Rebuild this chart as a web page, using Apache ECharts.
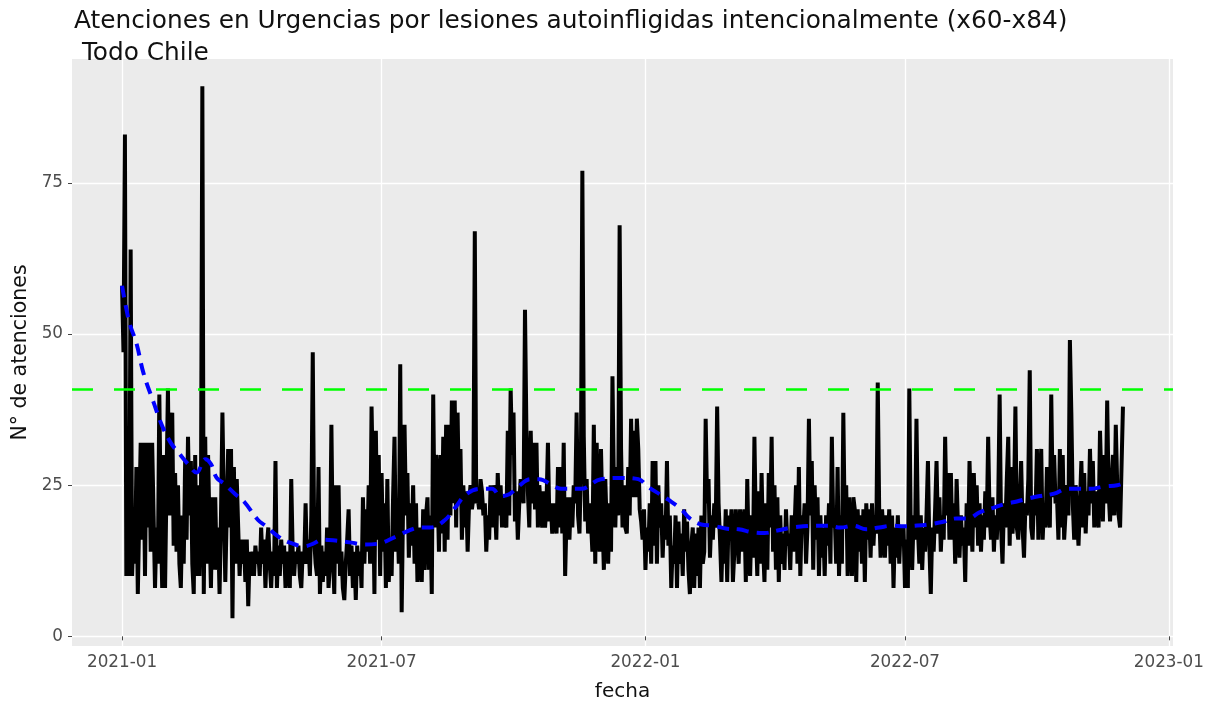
<!DOCTYPE html>
<html><head><meta charset="utf-8">
<script src="https://cdn.jsdelivr.net/npm/echarts@6/dist/echarts.min.js"></script>
<style>html,body{margin:0;padding:0;background:#fff}#c{width:1210px;height:707px}</style>
</head><body><div id="c"></div>
<script>
// Daily attendances, consecutive days starting at startDate
const startDate = '2021-01-01';
const dailyCountsPart1 = [ // days 0-179
58,47,83,10,25,10,64,10,18,12, 28,7,20,32,16,32,10,32,18,32, 14,32,20,8,18,12,40,20,8,30,
8,25,41,20,30,37,15,27,14,25, 12,8,20,12,29,16,33,20,29,12, 7,30,10,25,10,20,91,7,33,12,
30,18,8,23,11,23,11,18,7,20, 37,22,9,20,31,18,31,3,28,12, 26,18,10,16,12,16,9,16,5,14,
10,14,10,15,12,14,10,18,12,16, 8,15,18,12,8,14,10,29,8,15, 10,16,12,15,8,14,12,8,26,14,
10,14,12,15,10,8,14,12,22,12, 16,10,20,47,16,12,10,28,7,15, 9,14,10,18,8,12,35,14,7,25,
12,25,10,14,8,6,12,16,21,10, 15,8,14,6,15,10,14,8,23,12, 21,14,25,12,38,25,7,34,16,30];
const dailyCountsPart2 = [ // days 180-359
10,27,14,22,8,26,9,16,10,23, 33,14,20,12,45,4,22,35,20,27, 13,22,15,25,12,22,9,18,12,9,
21,11,20,23,11,20,7,40,18,30, 25,14,30,17,33,14,35,16,35,20, 39,22,39,18,37,22,31,16,25,18,
24,14,22,25,21,23,67,22,23,21, 26,24,20,22,14,20,16,25,18,25, 22,16,27,20,25,18,23,19,18,34,
20,41,30,37,19,24,16,22,26,26, 22,54,34,24,18,34,22,32,21,32, 18,25,21,18,24,18,22,32,19,22,
17,22,19,17,28,18,28,17,32,10, 20,23,16,23,18,25,22,37,20,17, 28,77,33,19,26,17,22,19,14,35,
12,32,18,14,31,20,11,26,18,12, 22,14,43,25,18,28,20,68,31,18, 25,18,17,28,20,36,23,34,23,36];
const dailyCountsPart3 = [ // days 360-539
31,21,19,16,21,11,18,14,22,12, 29,15,29,12,25,18,22,13,20,16, 29,15,20,8,15,12,20,8,19,12,
17,10,21,14,19,11,7,15,18,8, 17,10,18,8,20,12,14,36,22,26, 13,20,16,22,18,38,22,16,9,18,
12,21,9,20,16,21,9,14,21,17, 12,21,17,14,21,9,26,14,10,20, 13,33,18,10,24,12,27,15,9,22,
11,27,18,33,14,25,11,23,9,20, 12,17,11,21,15,17,11,20,14,18, 25,12,28,10,20,17,22,12,18,36,
20,29,11,25,16,23,10,20,13,18, 10,20,15,22,12,33,18,20,12,28, 10,20,12,37,18,25,10,23,16,10,
23,21,9,21,14,20,12,21,9,22, 16,21,13,22,15,20,17,42,21,13, 21,17,13,20,15,21,12,20,8,18];
const dailyCountsPart4 = [ // days 540-698
13,20,12,18,15,18,8,16,8,41, 18,11,20,16,36,18,12,20,11,18, 14,20,29,15,7,18,14,21,29,17,
23,14,20,16,33,20,27,16,27,16, 22,12,26,18,13,20,15,18,9,22, 15,29,20,14,27,18,25,15,22,14,
20,16,24,18,33,20,16,23,14,20, 16,22,40,18,12,22,18,26,33,15, 28,17,22,38,18,16,22,29,18,13,
22,20,26,44,18,16,23,20,31,16, 25,31,16,22,18,28,21,18,40,23, 30,22,23,16,31,18,30,16,16,25,
20,49,37,22,16,25,20,15,22,29, 18,27,17,24,20,31,22,29,18,24, 20,18,34,25,19,30,22,39,24,19,
25,30,20,35,25,20,18,28,38];

// Smoothed trend (day offset from startDate, value)
const trendDays = [0,5,10,15,22,28,34,40,46,52,58,62,66,71,79,85,95,100,109,117,127,133,140,150,160,168,178,191,200,208,215,225,233,240,250,258,264,270,276,285,291,300,306,320,334,350,360,367,375,381,390,396,404,412,422,430,440,448,457,467,475,483,492,501,510,519,528,537,545,553,562,572,582,590,598,608,616,624,632,640,650,659,667,675,685,694,698];
const trendValues = [58,52,48.5,43.5,38.7,34.8,32,30.2,28.5,27.1,29.3,28.5,26.2,25.3,23.5,22.3,19.2,18.3,16.5,15.5,14.9,15.3,16,15.8,15.5,15.2,15.3,16.5,17.5,18,18,19.2,21.5,23.5,24.4,24.4,23.2,23.5,24.7,26,26,25,24.4,24.4,26,26.2,26,24.7,23.5,22.6,21,19.5,18.5,18.3,17.8,17.7,17.2,17.1,17.5,18,18.2,18.3,18.3,18,18.3,17.7,18,18.3,18.2,18.3,18.5,18.9,19.5,19.5,20.5,21.3,21.9,22.3,22.8,23.2,23.6,24.4,24.4,24.4,24.8,25,25.3];

const thresholdValue = 40.8;
const xTickDates = ['2021-01-01','2021-07-01','2022-01-01','2022-07-01','2023-01-01'];
const yTickValues = [0,25,50,75];
const titleText = 'Atenciones en Urgencias por lesiones autoinfligidas intencionalmente (x60-x84)\n Todo Chile';
const xAxisTitle = 'fecha';
const yAxisTitle = 'N° de atenciones';

const DAY = 86400000;
const t0 = Date.parse(startDate + 'T00:00:00Z');
const counts = [].concat(dailyCountsPart1, dailyCountsPart2, dailyCountsPart3, dailyCountsPart4);
const countData = counts.map((v, i) => [t0 + i * DAY, v]);
const trendData = trendDays.map((d, i) => [t0 + d * DAY, trendValues[i]]);
const xTicks = xTickDates.map(s => Date.parse(s + 'T00:00:00Z'));
const span = (counts.length - 1);
const xMin = t0 - 0.05 * span * DAY, xMax = t0 + 1.05 * span * DAY;
const pad = n => (n < 10 ? '0' : '') + n;
const FONT = 'DejaVu Sans';

const chart = echarts.init(document.getElementById('c'), null, {renderer: 'canvas'});
chart.setOption({
  animation: false,
  backgroundColor: '#ffffff',
  title: {
    text: titleText, left: 69, top: 1,
    textStyle: {fontFamily: FONT, fontSize: 24.8, fontWeight: 'normal', color: '#111', lineHeight: 32}
  },
  grid: {left: 72, right: 37, top: 59, bottom: 61, show: true, backgroundColor: '#EBEBEB', borderWidth: 0},
  xAxis: {
    type: 'value', min: xMin, max: xMax, scale: true,
    name: xAxisTitle, nameLocation: 'middle', nameGap: 36,
    nameTextStyle: {fontFamily: FONT, fontSize: 20, color: '#111'},
    axisLine: {show: false},
    axisTick: {show: true, length: 4, lineStyle: {color: '#444', width: 1}, customValues: xTicks},
    axisLabel: {customValues: xTicks, margin: 8, fontFamily: FONT, fontSize: 16.8, color: '#4D4D4D',
      formatter: v => { const d = new Date(v); return d.getUTCFullYear() + '-' + pad(d.getUTCMonth() + 1); }},
    splitLine: {show: true, lineStyle: {color: '#ffffff', width: 1.3}}
  },
  yAxis: {
    type: 'value', min: -1.6, max: 95.5,
    name: yAxisTitle, nameLocation: 'middle', nameGap: 41, nameRotate: 90,
    nameTextStyle: {fontFamily: FONT, fontSize: 20.5, color: '#111'},
    axisLine: {show: false},
    axisTick: {show: true, length: 4, lineStyle: {color: '#444', width: 1}, customValues: yTickValues},
    axisLabel: {customValues: yTickValues, margin: 9, fontFamily: FONT, fontSize: 16.8, color: '#4D4D4D'},
    splitLine: {show: true, lineStyle: {color: '#ffffff', width: 1.3}}
  },
  series: [
    {
      type: 'line', data: countData, showSymbol: false, symbol: 'none', z: 2,
      lineStyle: {color: '#000000', width: 4, join: 'bevel'}
    },
    {
      type: 'line', data: trendData, showSymbol: false, symbol: 'none', smooth: 0.4, z: 3,
      lineStyle: {color: '#0000FF', width: 4, type: [12, 8]},
      markLine: {
        silent: true, symbol: ['none', 'none'], label: {show: false},
        lineStyle: {color: '#00FF00', width: 2.5, type: [21, 21]},
        data: [{yAxis: thresholdValue}]
      }
    }
  ]
});
</script>
</body></html>
